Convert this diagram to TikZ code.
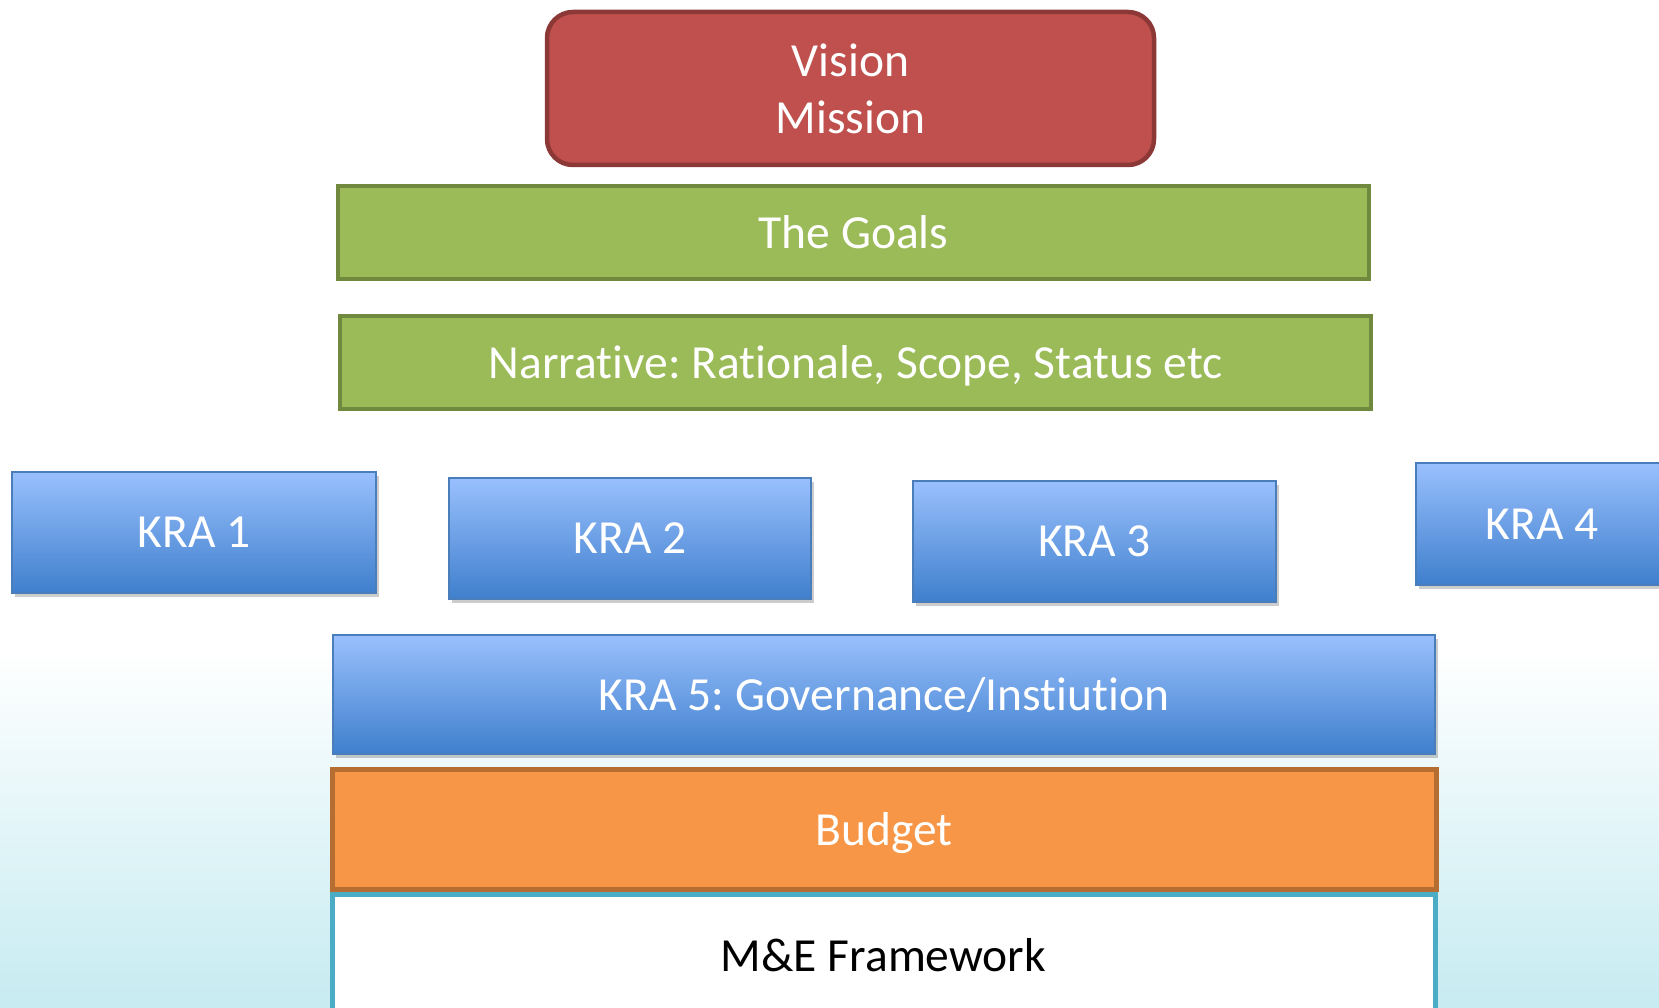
\documentclass[tikz,border=0pt]{standalone}
\usepackage{fontspec}
\setmainfont{Carlito}[Ligatures=NoCommon]
\frenchspacing
\usetikzlibrary{shadows}
\definecolor{vfill}{HTML}{C0504D}
\definecolor{vdraw}{HTML}{8C3836}
\definecolor{gfill}{HTML}{9BBB59}
\definecolor{gdraw}{HTML}{71893F}
\definecolor{btop}{HTML}{99C0FD}
\definecolor{bbot}{HTML}{3F7FCD}
\definecolor{bdraw}{HTML}{4A7EBB}
\definecolor{ofill}{HTML}{F79646}
\definecolor{odraw}{HTML}{B66D31}
\definecolor{mdraw}{HTML}{4BACC6}
\definecolor{bgbot}{HTML}{C6EBF1}
\begin{document}
\begin{tikzpicture}[x=1pt,y=-1pt,
  basebox/.style={rectangle,inner sep=0pt,outer sep=0pt,font=\fontsize{47.5}{57}\selectfont\frenchspacing,text=white,align=center},
  box/.style={basebox,text depth=0pt},
  visbox/.style={basebox,fill=vfill,draw=vdraw,line width=4.5pt,rounded corners=26pt},
  goalbox/.style={box,fill=gfill,draw=gdraw,line width=4pt},
  krabox/.style={box,top color=btop,bottom color=bbot,draw=bdraw,line width=1.5pt,
    drop shadow={shadow xshift=3pt,shadow yshift=-4pt,fill=black,opacity=0.2}},
  budgetbox/.style={box,fill=ofill,draw=odraw,line width=5pt},
  mebox/.style={box,fill=white,draw=mdraw,line width=5pt,text=black}]
\useasboundingbox (0,0) rectangle (1659,1008);
\clip (0,0) rectangle (1659,1008);
\fill[white] (0,0) rectangle (1659,1008);
\shade[top color=white,bottom color=bgbot] (0,650) rectangle (1659,1008);
\node[visbox,minimum width=607pt,minimum height=153pt] (vm) at (850.5,88.5) {Vision\\Mission};
\node[goalbox,minimum width=1031pt,minimum height=93pt] (goals) at (853.5,232.5) {The Goals};
\node[goalbox,minimum width=1031pt,minimum height=93pt] (narr) at (855.5,362.5) {Narrative: Rationale, Scope, Status etc};
\node[krabox,minimum width=364pt,minimum height=121pt] (k1) at (194,532.5) {KRA 1};
\node[krabox,minimum width=362pt,minimum height=121pt] (k2) at (630,538.5) {KRA 2};
\node[krabox,minimum width=363pt,minimum height=121pt] (k3) at (1094.5,541.5) {KRA 3};
\node[krabox,minimum width=252pt,minimum height=122pt] (k4) at (1542,524) {KRA 4};
\node[krabox,minimum width=1102pt,minimum height=119pt] (k5) at (884,694.5) {KRA 5: Governance/Instiution};
\node[budgetbox,minimum width=1104pt,minimum height=120pt] (bud) at (884,829) {Budget};
\node[mebox,minimum width=1103pt,minimum height=122pt] (me) at (883.5,955) {M\&E Framework};
\end{tikzpicture}
\end{document}
